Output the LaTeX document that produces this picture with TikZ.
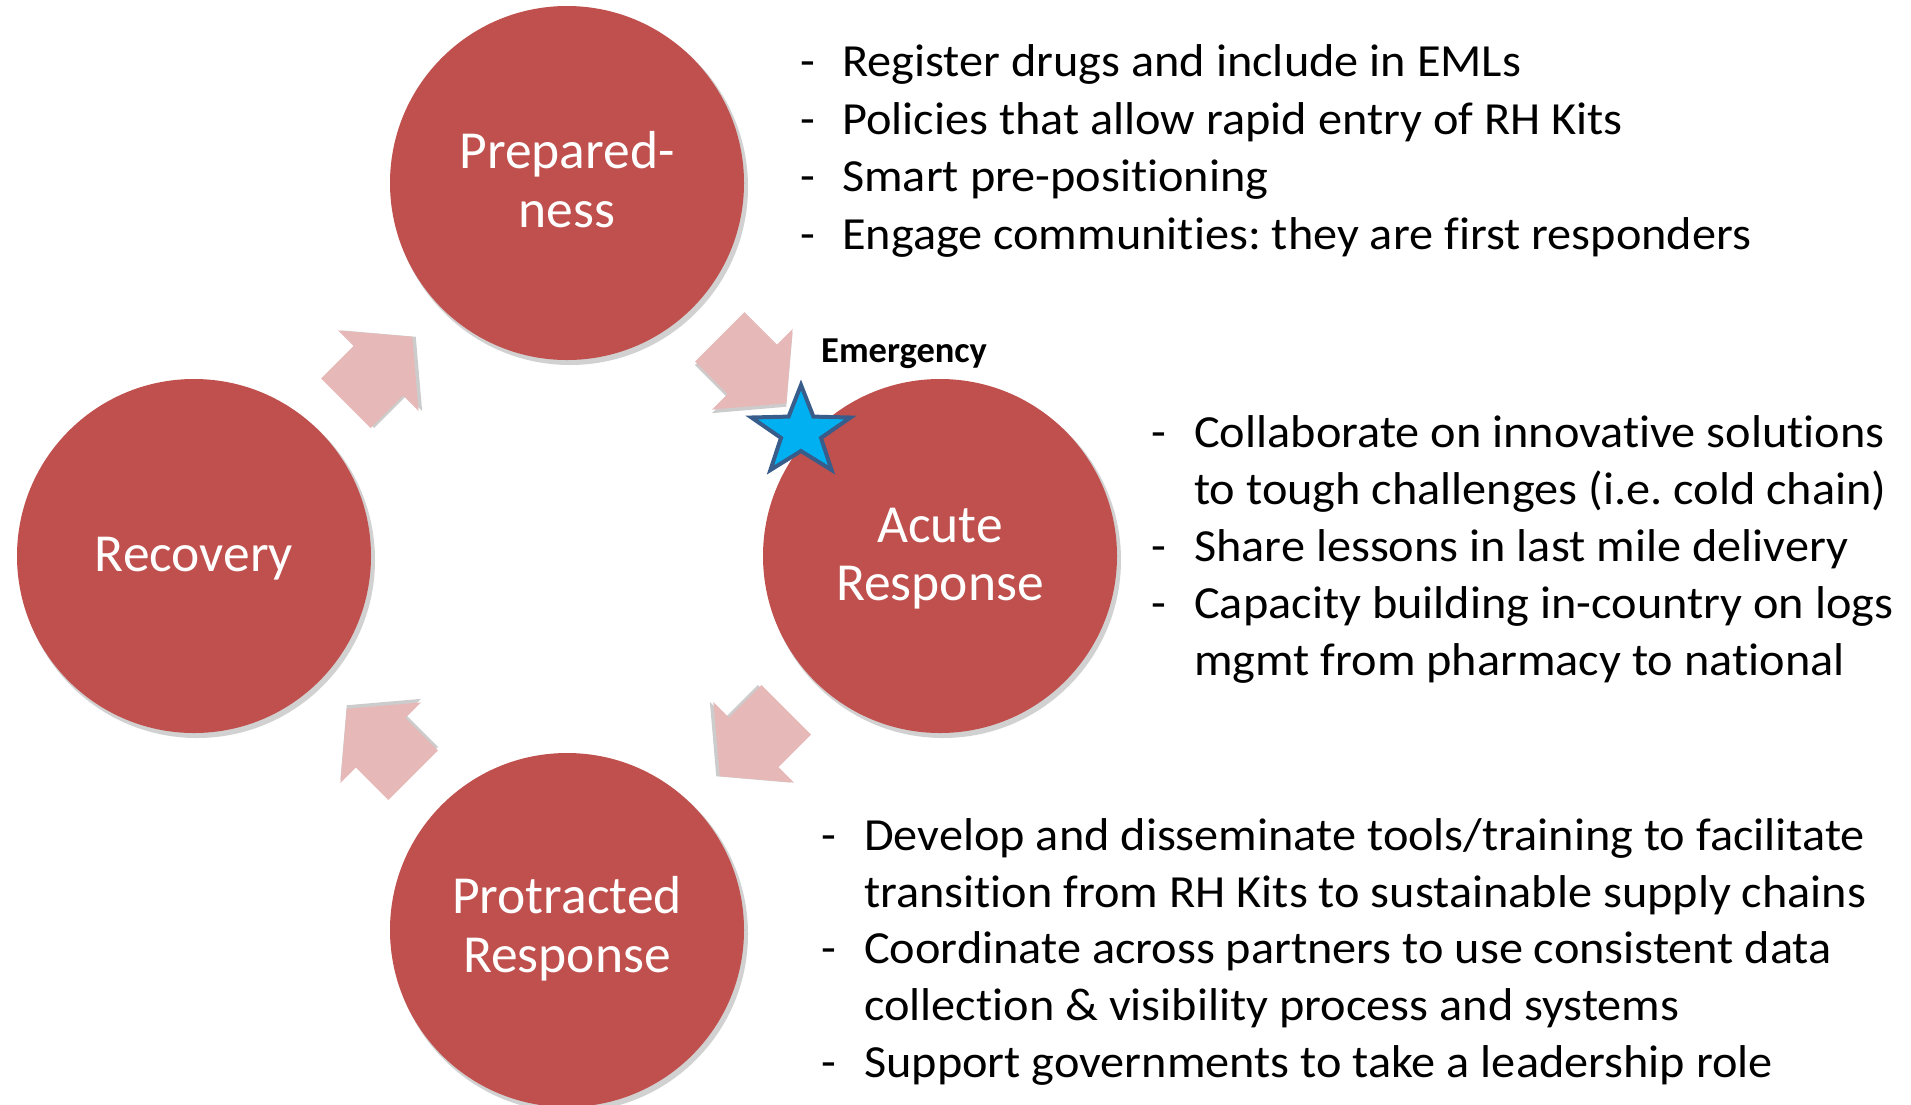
\documentclass[tikz,border=0pt]{standalone}
\usepackage{fontspec}
\setmainfont[Ligatures=NoCommon]{Carlito}
\newfontfamily\bodyfont[Ligatures=NoCommon, FakeStretch=1.05]{Carlito}
\usetikzlibrary{shapes.geometric}
\definecolor{circred}{HTML}{C0504D}
\definecolor{arrpink}{HTML}{E6B9B8}
\definecolor{starfill}{HTML}{00B0F0}
\definecolor{starline}{HTML}{385D8A}
\tikzset{
  phase/.style={circle, fill=circred, minimum size=354pt, inner sep=0pt},
  phaseshadow/.style={circle, fill=black, opacity=0.18, minimum size=356pt, inner sep=0pt},
  lbl/.style={anchor=base, inner sep=0pt, text=white, font=\fontsize{53.5}{58}\selectfont},
  txt/.style={anchor=base west, inner sep=0pt, font=\bodyfont\fontsize{46}{53}\selectfont},
  cyclearrow/.style={fill=arrpink},
  arrowshadow/.style={fill=black, opacity=0.2},
  starstyle/.style={fill=starfill, draw=starline, line width=4pt, line join=miter},
}
\newcommand\blockarrow[3]{%
  \begin{scope}[shift={(#1,#2)}, rotate=#3]
    \fill[arrowshadow, shift={(2.5,2.5)}] (-47,-35) -- (-1,-35) -- (-1,-57) -- (47,0) -- (-1,57) -- (-1,35) -- (-47,35) -- cycle;
    \fill[cyclearrow] (-47,-35) -- (-1,-35) -- (-1,-57) -- (47,0) -- (-1,57) -- (-1,35) -- (-47,35) -- cycle;
  \end{scope}}
\begin{document}
\frenchspacing
\begin{tikzpicture}[x=1pt, y=-1pt]
\useasboundingbox (0,0) rectangle (1911,1104);
\fill[white] (0,0) rectangle (1911,1104);

% circle shadows
\node[phaseshadow] (sh1) at (570,187) {};
\node[phaseshadow] (sh2) at (943,560) {};
\node[phaseshadow] (sh3) at (197,560) {};
\node[phaseshadow] (sh4) at (570,934) {};

% circles
\node[phase] (prep) at (567,183) {};
\node[phase] (acute) at (940,556) {};
\node[phase] (recov) at (194,556) {};
\node[phase] (prot) at (567,930) {};

% arrows
\blockarrow{753}{370}{-45}
\blockarrow{753}{743}{-135}
\blockarrow{380}{742}{135}
\blockarrow{379}{370}{45}

% circle labels
\node[lbl] (prepA) at (567,168) {Prepared-};
\node[lbl] (prepB) at (567,227) {ness};
\node[lbl] (acuteA) at (940,542) {Acute};
\node[lbl] (acuteB) at (940,600) {Response};
\node[lbl] (recovA) at (194,571) {Recovery};
\node[lbl] (protA) at (567,913) {Protracted};
\node[lbl] (protB) at (567,972) {Response};

% emergency star
\draw[starstyle] (801,385) -- (813.4,416.6) -- (850.5,417.5) -- (821.0,437.9) -- (831.6,470.0)
  -- (801,451) -- (770.4,470.0) -- (781.0,437.9) -- (751.5,417.5) -- (788.6,416.6) -- cycle;
\node[anchor=base west, inner sep=0pt, font=\fontsize{36.5}{43}\selectfont\bfseries] (emer) at (821,362) {Emergency};

% block 1
\node[txt] (d1a) at (800,76) {-};
\node[txt] (t1a) at (842,76) {Register drugs and include in EMLs};
\node[txt] (d1b) at (800,134) {-};
\node[txt] (t1b) at (842,134) {Policies that allow rapid entry of RH Kits};
\node[txt] (d1c) at (800,191) {-};
\node[txt] (t1c) at (842,191) {Smart pre-positioning};
\node[txt] (d1d) at (800,249) {-};
\node[txt] (t1d) at (842,249) {Engage communities: they are first responders};

% block 2
\node[txt] (d2a) at (1151,447) {-};
\node[txt] (t2a) at (1194,447) {Collaborate on innovative solutions};
\node[txt] (t2b) at (1194,504) {to tough challenges (i.e. cold chain)};
\node[txt] (d2c) at (1151,561) {-};
\node[txt] (t2c) at (1194,561) {Share lessons in last mile delivery};
\node[txt] (d2d) at (1151,618) {-};
\node[txt] (t2d) at (1194,618) {Capacity building in-country on logs};
\node[txt] (t2e) at (1194,675) {mgmt from pharmacy to national};

% block 3
\node[txt] (d3a) at (821,850) {-};
\node[txt] (t3a) at (864,850) {Develop and disseminate tools/training to facilitate};
\node[txt] (t3b) at (864,907) {transition from RH Kits to sustainable supply chains};
\node[txt] (d3c) at (821,963) {-};
\node[txt] (t3c) at (864,963) {Coordinate across partners to use consistent data};
\node[txt] (t3d) at (864,1020) {collection \& visibility process and systems};
\node[txt] (d3e) at (821,1077) {-};
\node[txt] (t3e) at (864,1077) {Support governments to take a leadership role};
\end{tikzpicture}
\end{document}
